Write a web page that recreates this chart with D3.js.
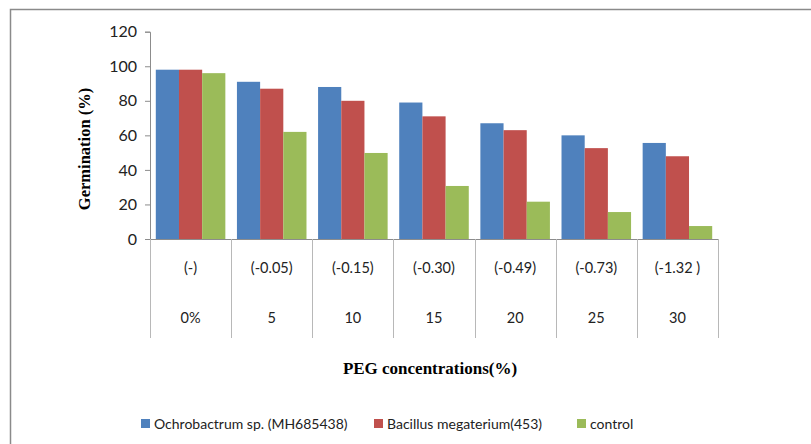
<!DOCTYPE html>
<html><head><meta charset="utf-8">
<script src="https://cdn.jsdelivr.net/npm/d3@7"></script>
<style>body{margin:0;background:#fff}svg{display:block}</style>
</head><body>
<svg id="c" width="811" height="444"></svg>
<script>
const categories = ["0%", "5", "10", "15", "20", "25", "30"];
const potentials = ["(-)", "(-0.05)", "(-0.15)", "(-0.30)", "(-0.49)", "(-0.73)", "(-1.32 )"];
const seriesNames = ["Ochrobactrum sp. (MH685438)", "Bacillus megaterium(453)", "control"];
const ochrobactrum = [98, 91, 88, 79, 67, 60, 55.6];
const bacillus = [98, 87, 80, 71, 63, 52.6, 47.9];
const control = [96, 62, 49.8, 30.7, 21.6, 15.6, 7.5];
const colors = ["#4F81BD", "#C0504D", "#9BBB59"];
const yTicks = [0, 20, 40, 60, 80, 100, 120];

const series = [ochrobactrum, bacillus, control];
const svg = d3.select("#c");
const tickFont = "Lato, 'Open Sans', sans-serif";

// outer frame
svg.append("path").attr("d", "M10.5,444 L10.5,9.5 L811,9.5")
  .attr("fill", "none").attr("stroke", "#8a8a8a").attr("stroke-width", 1.5);

const x0 = 150, x1 = 718, yTop = 31.7, yBot = 239;
const x = d3.scaleBand().domain(categories).range([x0, x1]).paddingInner(0).paddingOuter(0);
const xs = d3.scaleBand().domain(d3.range(series.length)).range([0, x.bandwidth()]).paddingInner(0).paddingOuter(0.25);
const y = d3.scaleLinear().domain([0, 120]).range([yBot, yTop]);

// bars
categories.forEach((c, i) => {
  series.forEach((s, k) => {
    svg.append("rect")
      .attr("x", x(c) + xs(k))
      .attr("y", y(s[i]))
      .attr("width", xs.bandwidth())
      .attr("height", yBot - y(s[i]))
      .attr("fill", colors[k]);
  });
});

// y axis
const ya = svg.append("g").attr("transform", `translate(${x0},0)`)
  .call(d3.axisLeft(y).tickValues(yTicks).tickSize(5).tickPadding(8).tickFormat(d3.format("d")));
ya.select(".domain").attr("stroke", "#8c8c8c");
ya.selectAll(".tick line").attr("stroke", "#8c8c8c");
ya.selectAll("text").attr("font-family", tickFont).attr("font-size", 16).attr("fill", "#222");

// x axis line
svg.append("line").attr("x1", x0).attr("x2", x1).attr("y1", yBot + 0.5).attr("y2", yBot + 0.5)
  .attr("stroke", "#8c8c8c").attr("stroke-width", 1);

// category dividers (multi-level)
const bounds = categories.map(c => x(c)).concat([x1]);
bounds.forEach(b => {
  svg.append("line").attr("x1", Math.round(b) + 0.5).attr("x2", Math.round(b) + 0.5)
    .attr("y1", yBot).attr("y2", 338).attr("stroke", "#b8b8b8").attr("stroke-width", 1);
});

categories.forEach((c, i) => {
  const cx = x(c) + x.bandwidth() / 2;
  svg.append("text").attr("x", cx).attr("y", 273).attr("text-anchor", "middle")
    .attr("font-family", tickFont).attr("font-size", 14.5).attr("fill", "#222").text(potentials[i]);
  svg.append("text").attr("x", cx).attr("y", 323).attr("text-anchor", "middle")
    .attr("font-family", tickFont).attr("font-size", 14.5).attr("fill", "#222").text(c);
});

// axis titles
svg.append("text").attr("x", 430).attr("y", 374).attr("text-anchor", "middle")
  .attr("font-family", "'Liberation Serif', 'Times New Roman', serif").attr("font-weight", "bold")
  .attr("font-size", 17).attr("fill", "#000").text("PEG concentrations(%)");
svg.append("text").attr("transform", "translate(90,149) rotate(-90)").attr("text-anchor", "middle")
  .attr("font-family", "'Liberation Serif', 'Times New Roman', serif").attr("font-weight", "bold")
  .attr("font-size", 16.5).attr("fill", "#000").text("Germination (%)");

// legend
const legX = [141, 374, 577];
seriesNames.forEach((n, k) => {
  svg.append("rect").attr("x", legX[k]).attr("y", 419).attr("width", 9).attr("height", 9).attr("fill", colors[k]);
  svg.append("text").attr("x", legX[k] + 13).attr("y", 429)
    .attr("font-family", tickFont).attr("font-size", 14).attr("fill", "#222").text(n);
});
</script>
</body></html>
